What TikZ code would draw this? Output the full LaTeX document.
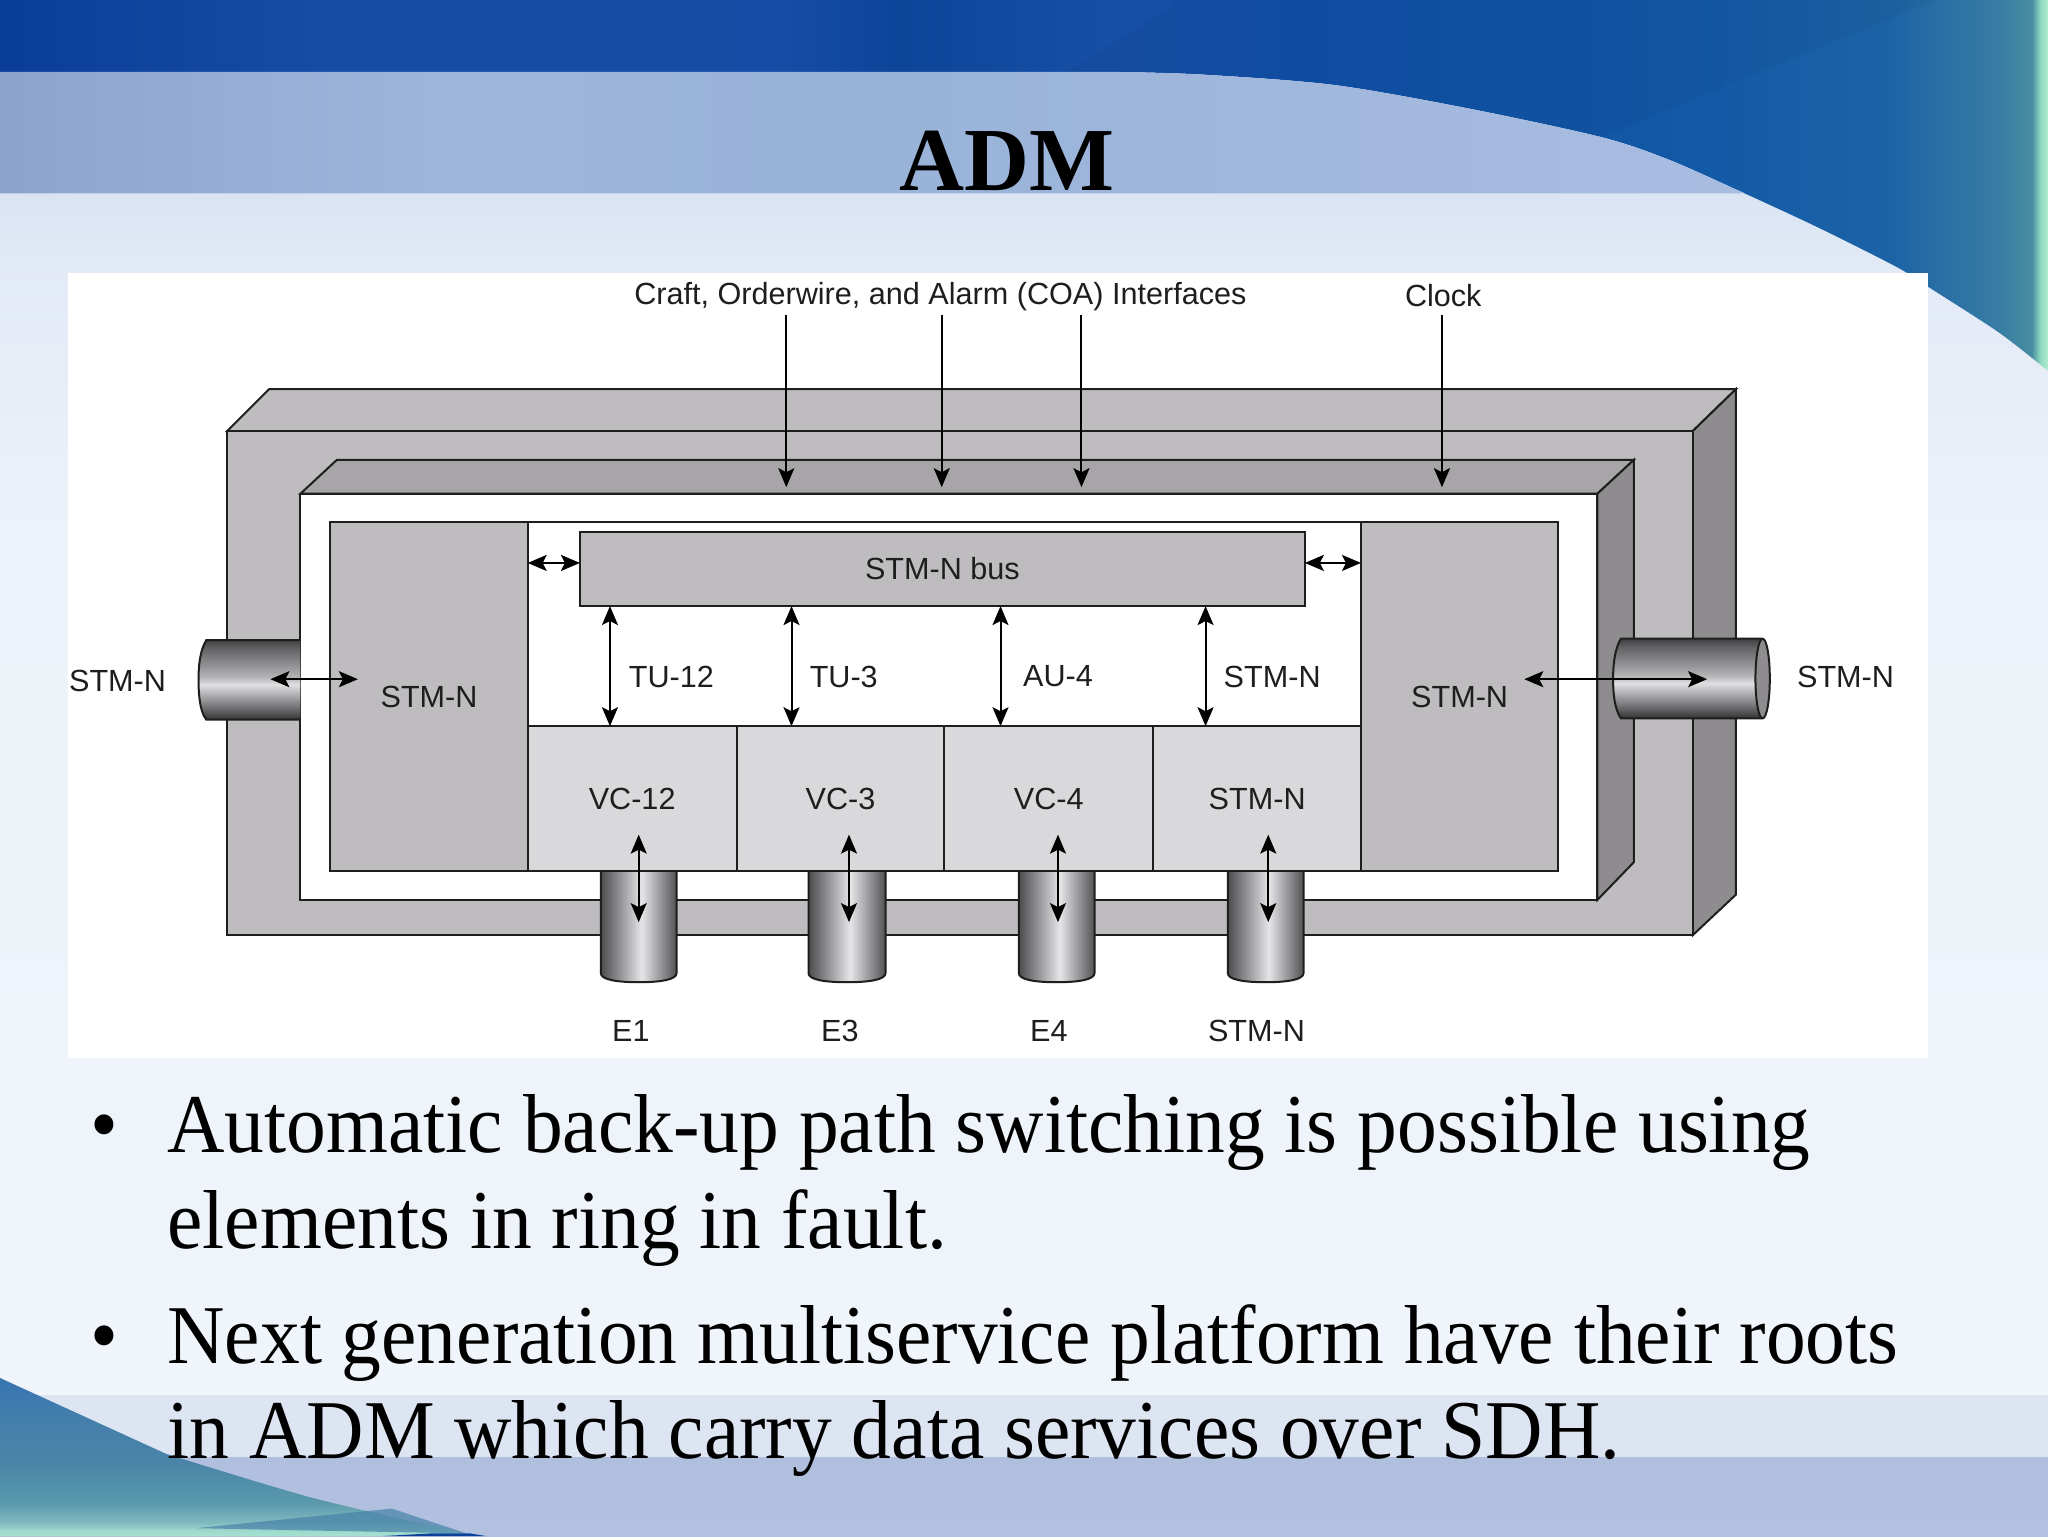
\documentclass[tikz,border=0pt]{standalone}
\usepackage{fontspec}
\setmainfont{Liberation Serif}
\newfontfamily\lblfont{Liberation Sans}
\newfontfamily\bodyfont[FakeStretch=0.951]{Liberation Serif}
\usetikzlibrary{arrows.meta}
\def\U{0.65306pt}
\definecolor{ink}{HTML}{1E1E1E}
\definecolor{mid}{HTML}{BEBCBF}
\definecolor{lite}{HTML}{D9D8DA}
\definecolor{recess}{HTML}{A7A5A8}
\definecolor{side}{HTML}{8E8C8F}
\definecolor{lowerstrip}{rgb}{0.87,0.90,0.95}
\definecolor{wedgeblue}{rgb}{0.28,0.50,0.66}
\definecolor{deepblue}{rgb}{0.05,0.25,0.60}
% stops run 25bp..75bp across the bounding box of the shaded path
\pgfdeclarehorizontalshading{topblue}{100bp}{
  rgb(0bp)=(0.04,0.24,0.60);
  rgb(25bp)=(0.04,0.24,0.60); rgb(33bp)=(0.09,0.30,0.64); rgb(44bp)=(0.09,0.30,0.65);
  rgb(47bp)=(0.05,0.27,0.60); rgb(52bp)=(0.09,0.31,0.65); rgb(57bp)=(0.06,0.31,0.65);
  rgb(66.5bp)=(0.07,0.35,0.65); rgb(71.2bp)=(0.11,0.39,0.65); rgb(73.8bp)=(0.22,0.49,0.64);
  rgb(74.6bp)=(0.28,0.55,0.63); rgb(74.8bp)=(0.55,0.85,0.75); rgb(75bp)=(0.70,0.93,0.82); rgb(100bp)=(0.70,0.93,0.82)}
\pgfdeclarehorizontalshading{bandblue}{100bp}{
  rgb(0bp)=(0.55,0.64,0.80);
  rgb(25bp)=(0.55,0.64,0.80); rgb(30bp)=(0.58,0.67,0.83); rgb(38bp)=(0.62,0.71,0.86);
  rgb(50bp)=(0.60,0.70,0.85); rgb(75bp)=(0.66,0.74,0.88); rgb(100bp)=(0.66,0.74,0.88)}
\pgfdeclareverticalshading{bodylight}{100bp}{
  rgb(0bp)=(0.94,0.96,0.985); rgb(25bp)=(0.94,0.96,0.985); rgb(60bp)=(0.93,0.95,0.98);
  rgb(71bp)=(0.89,0.92,0.965); rgb(75bp)=(0.85,0.89,0.95); rgb(100bp)=(0.85,0.89,0.95)}
\pgfdeclareverticalshading{tealcorner}{100bp}{
  rgb(0bp)=(0.65,0.88,0.82); rgb(25bp)=(0.65,0.88,0.82); rgb(26.6bp)=(0.62,0.86,0.80);
  rgb(29.5bp)=(0.50,0.72,0.75); rgb(35.7bp)=(0.35,0.60,0.67); rgb(48bp)=(0.29,0.52,0.66);
  rgb(60.5bp)=(0.27,0.50,0.67); rgb(75bp)=(0.22,0.46,0.70); rgb(100bp)=(0.22,0.46,0.70)}
\pgfdeclareverticalshading{lowband}{100bp}{
  rgb(0bp)=(0.70,0.76,0.88); rgb(75bp)=(0.69,0.75,0.87); rgb(100bp)=(0.69,0.75,0.87)}
\pgfdeclareverticalshading{cylH}{100bp}{
  rgb(0bp)=(0.20,0.20,0.21); rgb(25bp)=(0.20,0.20,0.21); rgb(32bp)=(0.42,0.42,0.43);
  rgb(47bp)=(0.88,0.88,0.89); rgb(52bp)=(0.70,0.70,0.71); rgb(70bp)=(0.38,0.38,0.39);
  rgb(75bp)=(0.25,0.25,0.26); rgb(100bp)=(0.25,0.25,0.26)}
\pgfdeclarehorizontalshading{cylV}{100bp}{
  rgb(0bp)=(0.30,0.30,0.31); rgb(25bp)=(0.30,0.30,0.31); rgb(35bp)=(0.52,0.52,0.53);
  rgb(52bp)=(0.90,0.90,0.91); rgb(66bp)=(0.55,0.55,0.56);
  rgb(75bp)=(0.32,0.32,0.33); rgb(100bp)=(0.32,0.32,0.33)}
\tikzset{
  x=\U, y=-\U,
  edge/.style={draw=ink, line width=1pt},
  blk/.style={edge, inner sep=0pt, outer sep=0pt, font=\lblfont\fontsize{15.3}{18}\selectfont, text=ink},
  midblk/.style={blk, fill=mid},
  liteblk/.style={blk, fill=lite},
  lbl/.style={inner sep=0pt, outer sep=0pt, font=\lblfont\fontsize{15.3}{18}\selectfont, text=ink},
  arrowone/.style={draw=black, line width=1pt, -{Stealth[length=9.5pt,width=8pt,inset=2pt]}},
  arrowtwo/.style={draw=black, line width=1pt, {Stealth[length=9.5pt,width=8pt,inset=2pt]}-{Stealth[length=9.5pt,width=8pt,inset=2pt]}},
  bullettext/.style={anchor=base west, inner sep=0pt, font=\bodyfont\fontsize{41.8}{50}\selectfont, text=black},
}
\begin{document}
\begin{tikzpicture}
\useasboundingbox (0,0) rectangle (1568,1176);
% ---------- slide background ----------
\shade[shading=bodylight] (0,140) rectangle (1568,1068);
\fill[lowerstrip] (0,1068) rectangle (1568,1116);
\shade[shading=lowband] (0,1116) rectangle (1568,1176);
\shade[shading=tealcorner] (0,1055) -- (127,1113) -- plot[smooth] coordinates {(127,1113) (240,1147) (357,1174)} -- (372,1176) -- (0,1176) -- cycle;
\fill[wedgeblue, opacity=0.7] (150,1170) -- (240,1161) -- (300,1155) -- (357,1174) -- (250,1172) -- cycle;
\fill[deepblue] (293,1176) -- (330,1174) -- (360,1174) -- (372,1176) -- cycle;
\shade[shading=topblue] (0,0) -- (1568,0) -- plot[smooth] coordinates {(1568,284) (1531,255) (1480,222) (1455,206) (1412,184) (1379,168) (1329,145) (1277,122) (1226,105) (1124,83) (1021,65) (919,57) (850,55)} -- (0,55) -- cycle;
\fill[black, opacity=0.035] (817,55) -- (905,0) -- (1482,0) -- (1226,105) -- (1124,83) -- (1021,65) -- (919,57) -- (850,55) -- cycle;
\shade[shading=bandblue] (0,55) -- plot[smooth] coordinates {(850,55) (919,57) (1021,65) (1124,83) (1226,105) (1277,122) (1329,145)} -- (1336,148) -- (0,148) -- cycle;
\fill[white] (52,209) rectangle (1476,810);
% ---------- title ----------
\node[anchor=base, inner sep=0pt, font=\fontsize{45}{50}\selectfont\bfseries, text=black] (title) at (771,146) {ADM};
% ---------- outer chassis ----------
\fill[mid, edge] (174,330) -- (206,298) -- (1329,298) -- (1296,330) -- cycle;
\fill[side, edge] (1296,330) -- (1329,298) -- (1329,685) -- (1296,716) -- cycle;
\node[midblk, minimum width=1122*\U, minimum height=386*\U] (outer) at (735,523) {};
\fill[recess, edge] (230,378) -- (258,352) -- (1251,352) -- (1223,378) -- cycle;
\fill[side, edge] (1223,378) -- (1251,352) -- (1251,660) -- (1223,689) -- cycle;
\node[blk, fill=white, minimum width=993*\U, minimum height=311*\U] (inner) at (726.5,533.5) {};
% ---------- tributary cylinders ----------
\foreach \xa/\xb in {460/518, 619/678, 780/838, 940/998}{
  \shade[shading=cylV] (\xa,667) -- (\xa,745) .. controls (\xa,750) and (\xa+12,752) .. (\xa/2+\xb/2,752) .. controls (\xb-12,752) and (\xb,750) .. (\xb,745) -- (\xb,667) -- cycle;
  \draw[edge] (\xa,667) -- (\xa,745) .. controls (\xa,750) and (\xa+12,752) .. (\xa/2+\xb/2,752) .. controls (\xb-12,752) and (\xb,750) .. (\xb,745) -- (\xb,667);
}
% ---------- line cylinders ----------
\shade[shading=cylH] (230,490) -- (158,490) .. controls (153,498) and (152,510) .. (152,520) .. controls (152,532) and (153,545) .. (158,551) -- (230,551) -- cycle;
\draw[edge] (230,490) -- (158,490) .. controls (153,498) and (152,510) .. (152,520) .. controls (152,532) and (153,545) .. (158,551) -- (230,551);
\shade[shading=cylH] (1349,489) -- (1241,489) .. controls (1236,497) and (1235,510) .. (1235,520) .. controls (1235,530) and (1236,543) .. (1241,550) -- (1349,550) -- cycle;
\draw[edge] (1349,489) -- (1241,489) .. controls (1236,497) and (1235,510) .. (1235,520) .. controls (1235,530) and (1236,543) .. (1241,550) -- (1349,550);
\draw[edge, fill=side] (1349.5,519.5) ellipse [x radius=5.5, y radius=30.5];
% ---------- blocks ----------
\node[midblk, minimum width=151*\U, minimum height=267*\U] (stml) at (328.5,533.5) {STM-N};
\node[midblk, minimum width=151*\U, minimum height=267*\U] (stmr) at (1117.5,533.5) {STM-N};
\draw[edge] (stml.north east) -- (stmr.north west);
\node[midblk, minimum width=555*\U, minimum height=57*\U] (bus) at (721.5,435.5) {STM-N bus};
\node[liteblk, minimum width=160*\U, minimum height=111*\U] (vc12) at (484,611.5) {VC-12};
\node[liteblk, minimum width=159*\U, minimum height=111*\U] (vc3) at (643.5,611.5) {VC-3};
\node[liteblk, minimum width=160*\U, minimum height=111*\U] (vc4) at (803,611.5) {VC-4};
\node[liteblk, minimum width=159*\U, minimum height=111*\U] (vcn) at (962.5,611.5) {STM-N};
% ---------- labels ----------
\node[lbl] (coa) at (720,227) {Craft, Orderwire, and Alarm (COA) Interfaces};
\node[lbl] (clock) at (1105,226) {Clock};
\node[lbl] (linel) at (90,521) {STM-N};
\node[lbl] (liner) at (1413,518) {STM-N};
\node[lbl] (tu12) at (514,518) {TU-12};
\node[lbl] (tu3) at (646,518) {TU-3};
\node[lbl] (au4) at (810,518) {AU-4};
\node[lbl] (stmt) at (974,518) {STM-N};
\node[lbl] (le1) at (483,789) {E1};
\node[lbl] (le3) at (643,789) {E3};
\node[lbl] (le4) at (803,789) {E4};
\node[lbl] (len) at (962,789) {STM-N};
% ---------- connectors ----------
\coordinate (c1) at (602,241); \coordinate (c2) at (721,241); \coordinate (c3) at (828,241); \coordinate (c4) at (1104,241);
\coordinate (recessmark) at (0,373);
\foreach \c in {c1,c2,c3,c4} \draw[arrowone] (\c) -- (\c |- recessmark);
\draw[arrowtwo] (stml.east |- 0,431) -- (bus.west |- 0,431);
\draw[arrowtwo] (bus.east |- 0,431) -- (stmr.west |- 0,431);
\foreach \xp/\v in {467/vc12, 606/vc3, 766/vc4, 923/vcn}
  \draw[arrowtwo] (\xp,0 |- bus.south) -- (\xp,0 |- \v.north);
\foreach \xp in {489,650,810,971} \draw[arrowtwo] (\xp,639) -- (\xp,706);
\coordinate (lcyl) at (207,520); \coordinate (lend) at (274,520);
\coordinate (rcyl) at (1307,520); \coordinate (rend) at (1167,520);
\draw[arrowtwo] (lcyl) -- (lend);
\draw[arrowtwo] (rend) -- (rcyl);
% ---------- bullets ----------
\node[bullettext] (b1) at (69,882) {•};
\node[bullettext] (t1) at (128,882) {Automatic back-up path switching is possible using};
\node[bullettext] (t2) at (128,956) {elements in ring in fault.};
\node[bullettext] (b2) at (69,1044) {•};
\node[bullettext] (t3) at (128,1044) {Next generation multiservice platform have their roots};
\node[bullettext] (t4) at (128,1117) {in ADM which carry data services over SDH.};
\end{tikzpicture}
\end{document}
